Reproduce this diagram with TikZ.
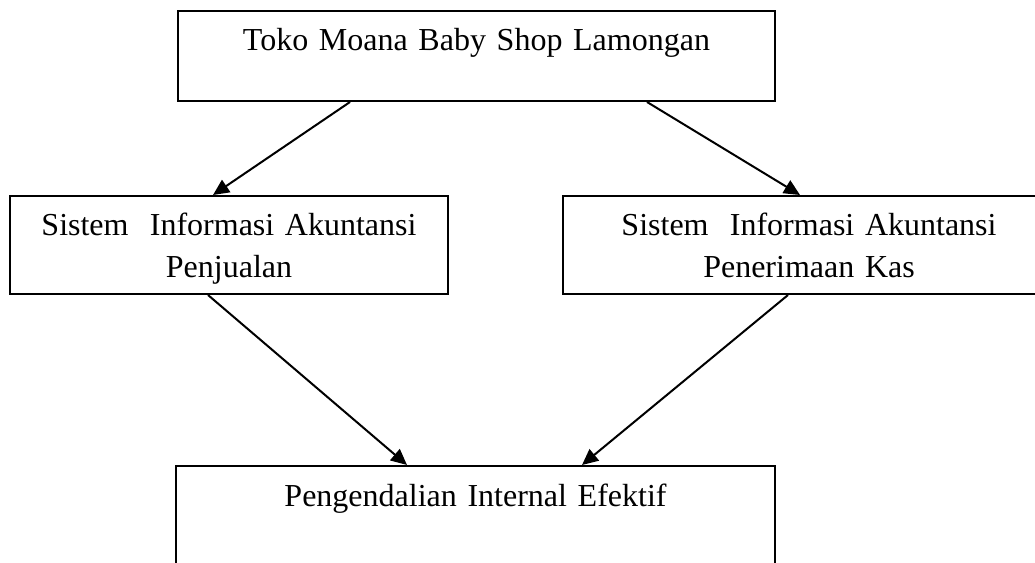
\documentclass[tikz,border=0pt]{standalone}
\usepackage{fontspec}
\setmainfont{Liberation Serif}
\usetikzlibrary{arrows.meta,calc}
\tikzset{
  box/.style={draw, line width=0.75pt, inner sep=0pt, align=center,
    font=\fontsize{12}{15.75}\selectfont},
  arr/.style={line width=0.75pt, -{Triangle[length=6pt,width=5.5pt]}}
}
\begin{document}
\begin{tikzpicture}[x=0.375pt,y=-0.375pt]
\useasboundingbox (0,0) rectangle (1035,562);
\clip (0,0) rectangle (1035,562);
\node[box, text width=223.875pt, text height=15pt, text depth=18.75pt] (top) at (476.5,56) {Toko Moana Baby Shop Lamongan};
\node[box, text width=164.25pt, text height=15pt, text depth=21.75pt, anchor=north] (left) at (229,195) {Sistem\ \ Informasi Akuntansi\\Penjualan};
\node[box, text width=184.5pt, text height=15pt, text depth=21.75pt, anchor=north] (right) at (809,195) {Sistem\ \ Informasi Akuntansi\\Penerimaan Kas};
\node[box, text width=224.625pt, text height=15pt, text depth=36pt, anchor=north] (bottom) at (475.5,465) {Pengendalian Internal Efektif};
\draw[arr] ($(top.south)+(-126.5,0)$) -- ($(left.north)+(-16,0)$);
\draw[arr] ($(top.south)+(170.5,0)$) -- ($(right.north)+(-9,0)$);
\draw[arr] ($(left.south)+(-21,0)$) -- ($(bottom.north)+(-68.5,0)$);
\draw[arr] ($(right.south)+(-21,0)$) -- ($(bottom.north)+(106.5,0)$);
\end{tikzpicture}
\end{document}
